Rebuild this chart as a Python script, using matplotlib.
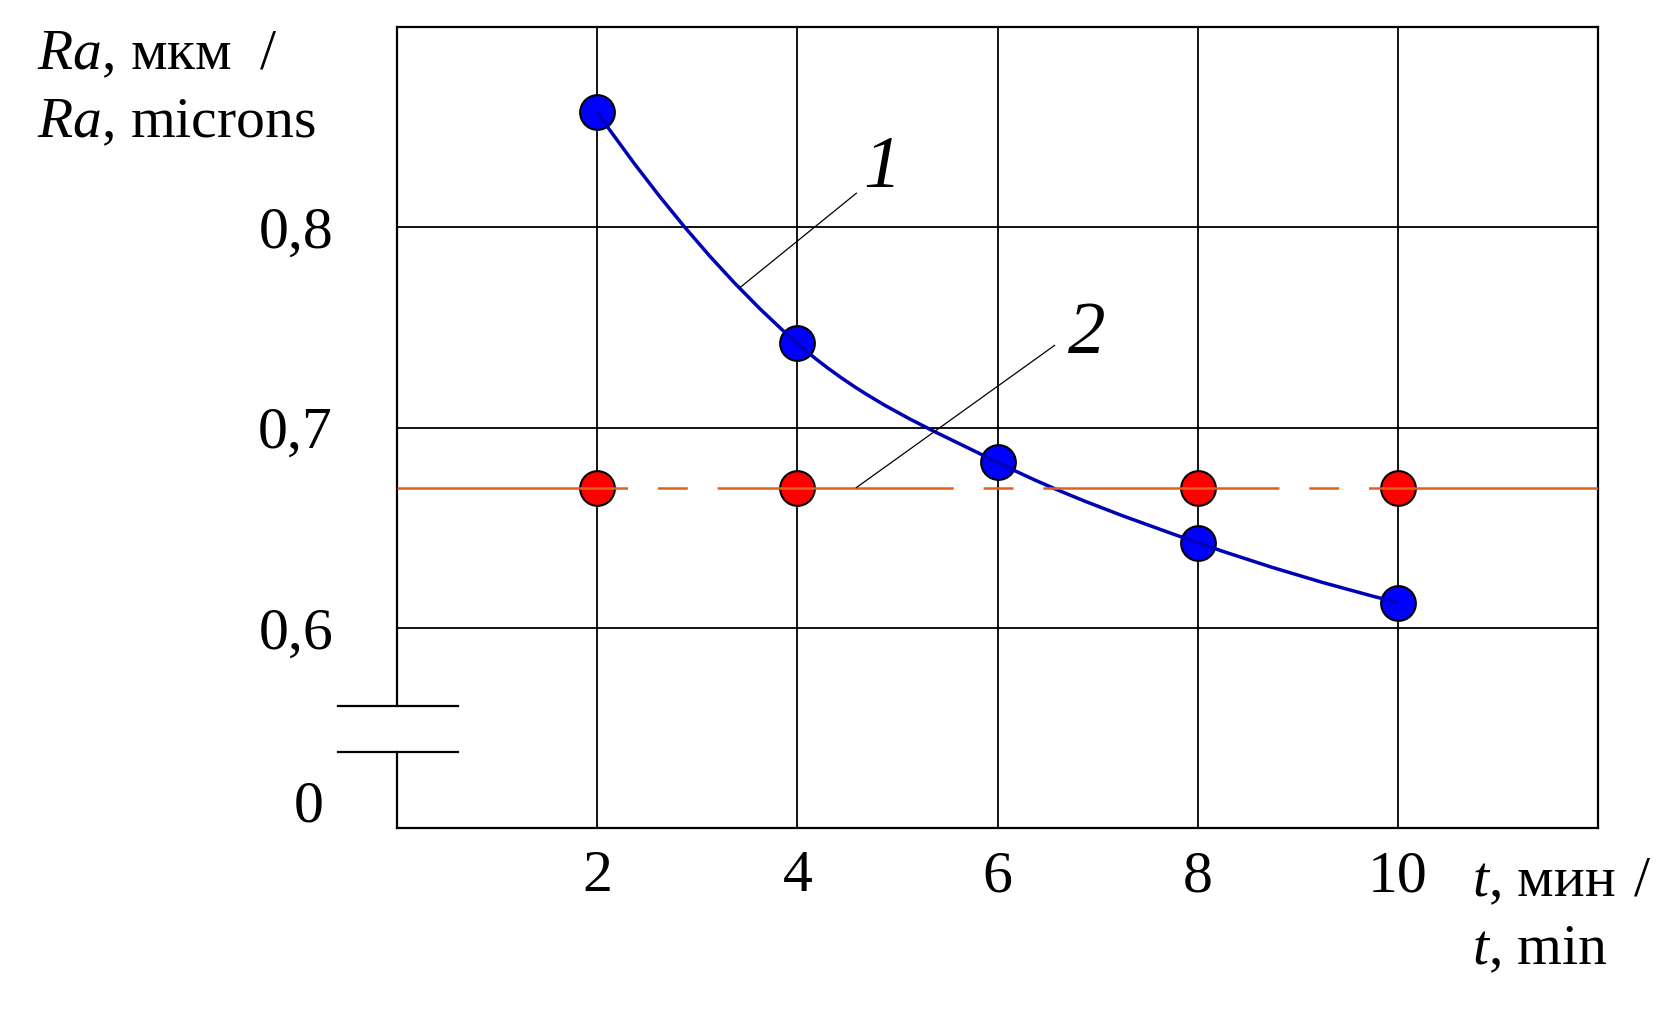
import numpy as np
import matplotlib
matplotlib.use("Agg")
import matplotlib.pyplot as plt
from matplotlib.path import Path
from matplotlib.patches import PathPatch

plt.rcParams['font.family'] = ['Liberation Serif', 'DejaVu Serif']
plt.rcParams['mathtext.fontset'] = 'custom'
plt.rcParams['mathtext.rm'] = 'Liberation Serif'
plt.rcParams['mathtext.it'] = 'Liberation Serif:italic'
plt.rcParams['lines.scale_dashes'] = False

# data
t = [2, 4, 6, 8, 10]
ra_1 = [0.8575, 0.742, 0.6826, 0.6425, 0.6126]   # curve 1
t_2 = [2, 4, 8, 10]
ra_2 = [0.670, 0.670, 0.670, 0.670]              # curve 2 (point at 6 hidden)
xtick_labels = ["2", "4", "6", "8", "10"]
yticks = [0.6, 0.7, 0.8]
ytick_labels = ["0,6", "0,7", "0,8"]

fig = plt.figure(figsize=(16.57, 10.16), dpi=100)
ax = fig.add_axes([397/1657, 1-828/1016, 1201/1657, 801/1016])
ax.set_xlim(0, 12)
ax.set_ylim(0.5, 0.9)

# grid drawn over the markers like in the original
ax.set_xticks(t)
ax.set_xticklabels(xtick_labels)
ax.set_yticks(yticks)
ax.set_yticklabels(ytick_labels)
ax.tick_params(length=0, labelsize=43)
ax.tick_params(axis='x', pad=16)
ax.tick_params(axis='y', pad=46)
ax.grid(True, color='black', linewidth=1.3, zorder=5)
ax.set_axisbelow(False)
for s in ax.spines.values():
    s.set_linewidth(1.6)
ax.spines['left'].set_visible(False)

# broken left axis
y_lo, y_hi = 0.538, 0.561
ax.plot([0, 0], [0.5, y_lo], color='black', lw=1.6, clip_on=False, zorder=6)
ax.plot([0, 0], [y_hi, 0.9], color='black', lw=1.6, clip_on=False, zorder=6)
ax.plot([-0.59, 0.61], [y_lo, y_lo], color='black', lw=1.6, clip_on=False, zorder=6)
ax.plot([-0.59, 0.61], [y_hi, y_hi], color='black', lw=1.6, clip_on=False, zorder=6)
fig.text(324/1657, 1-807/1016, "0", fontsize=43, ha='right', va='center')

# curve 2: dashed line + markers
ax.plot([0, 12], [ra_2[0], ra_2[0]], color='#E2601C', lw=1.8,
        linestyle=(4, (170, 21.5, 21.5, 21.5)), zorder=7)
ax.plot(t_2, ra_2, linestyle='none', marker='o', markersize=25,
        markerfacecolor='#FF0000', markeredgecolor='black', markeredgewidth=1.5, zorder=4)

# curve 1: smooth line through the points (Catmull-Rom -> Bezier)
px = np.array(t, dtype=float)
py = np.array(ra_1)
pts = np.column_stack([px, py])
# end tangents from the parabola through the three end points
first = 3*pts[0] - 3*pts[1] + pts[2]
last = 3*pts[-1] - 3*pts[-2] + pts[-3]
ext = np.vstack([first, pts, last])
verts = [tuple(pts[0])]
codes = [Path.MOVETO]
for i in range(1, len(ext)-2):
    p0, p1, p2, p3 = ext[i-1], ext[i], ext[i+1], ext[i+2]
    c1 = p1 + (p2 - p0) / 6.0
    c2 = p2 - (p3 - p1) / 6.0
    verts += [tuple(c1), tuple(c2), tuple(p2)]
    codes += [Path.CURVE4]*3
ax.add_patch(PathPatch(Path(verts, codes), facecolor='none',
                       edgecolor='#0000B4', lw=2.5, zorder=6))
ax.plot(t, ra_1, linestyle='none', marker='o', markersize=25,
        markerfacecolor='#0000FF', markeredgecolor='black', markeredgewidth=1.5, zorder=4)

# leaders and curve numbers
ax.plot([3.43, 4.59], [0.770, 0.817], color='black', lw=0.9, zorder=8)
ax.text(4.85, 0.829, "1", fontsize=54, style='italic', ha='center', va='center')
ax.plot([4.59, 6.57], [0.670, 0.741], color='black', lw=0.9, zorder=8)
ax.text(6.89, 0.746, "2", fontsize=54, style='italic', ha='center', va='center')

# axis titles
fig.text(37/1657, 1-69/1016, "$Ra$, мкм  /", fontsize=41.5, ha='left', va='baseline')
fig.text(37/1657, 1-137/1016, "$Ra$, microns", fontsize=41.5, ha='left', va='baseline')
fig.text(1472/1657, 1-896/1016, "$t$, мин", fontsize=41.5, ha='left', va='baseline')
fig.text(1634/1657, 1-896/1016, "/", fontsize=41.5, ha='left', va='baseline')
fig.text(1472/1657, 1-964/1016, "$t$, min", fontsize=41.5, ha='left', va='baseline')

fig.savefig("out.png", dpi=100)
